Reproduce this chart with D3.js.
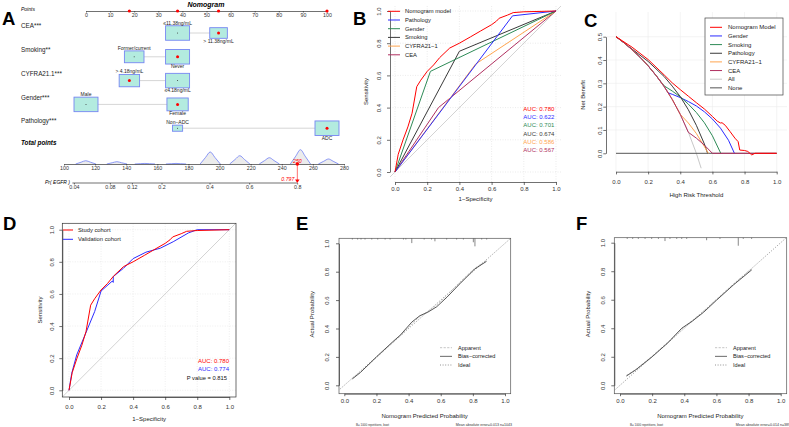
<!DOCTYPE html>
<html>
<head>
<meta charset="utf-8">
<title>Nomogram, ROC, DCA and calibration</title>
<script src="https://cdn.jsdelivr.net/npm/d3@7/dist/d3.min.js"></script>
<style>
  body { margin: 0; background: #fff; }
  svg { display: block; font-family: "Liberation Sans", Arial, Helvetica, sans-serif; }
</style>
</head>
<body>
<svg id="fig" width="789" height="427"></svg>
<script>
// ---- A: nomogram ----
var pointTicks = [0, 10, 20, 30, 40, 50, 60, 70, 80, 90, 100];
var pointMarks = [18, 38, 55, 100];
var nomoVars = ["CEA***", "Smoking**", "CYFRA21.1***", "Gender***", "Pathology***"];
var nomoLevels = [["≤11.38ng/mL", "> 11.38ng/mL"], ["Former/current", "Never"], ["> 4.18ng/mL", "≤4.18ng/mL"], ["Male", "Female"], ["Non\u2212ADC", "ADC"]];
var nomoPoints = [[38, 55], [20, 38], [18, 38], [0, 38], [38, 100]];
var nomoFreq = [[0.65, 0.35], [0.40, 0.60], [0.42, 0.58], [0.56, 0.44], [0.15, 0.85]];
var nomoPicked = [1, 1, 0, 1, 1];
var totalTicks = [100, 120, 140, 160, 180, 200, 220, 240, 260, 280];
var densityAt = [114, 134, 152, 172, 194, 213, 232, 252, 270];
var densityVal = [0.23, 0.16, 0.04, 0.04, 0.84, 0.58, 0.44, 1.0, 0.35];
var probTicks = [0.04, 0.08, 0.12, 0.2, 0.4, 0.6, 0.8];
var lpIntercept = -6.56, lpSlope = 0.0318;
var patientTotal = 250, patientProb = 0.797;

// ---- B / D: ROC ----
var rocNames = ["Nomogram model", "Pathology", "Gender", "Smoking", "CYFRA21\u22121", "CEA"];
var rocAuc = ["0.780", "0.622", "0.701", "0.674", "0.586", "0.567"];
var nomoFpr = [0, 0.02, 0.05, 0.08, 0.106, 0.135, 0.16, 0.2, 0.24, 0.277, 0.34, 0.4, 0.47, 0.53, 0.6, 0.63, 0.647, 0.7, 0.734, 0.8, 1];
var nomoTpr = [0, 0.11, 0.2, 0.28, 0.365, 0.53, 0.57, 0.625, 0.665, 0.71, 0.77, 0.8, 0.84, 0.875, 0.915, 0.937, 0.955, 0.975, 0.99, 0.995, 1];
var pathFpr = [0, 0.73, 1], pathTpr = [0, 0.97, 1];
var genderFpr = [0, 0.22, 1], genderTpr = [0, 0.625, 1];
var smokFpr = [0, 0.4, 1], smokTpr = [0, 0.75, 1];
var cyfraFpr = [0, 0.5, 1], cyfraTpr = [0, 0.67, 1];
var ceaFpr = [0, 0.27, 1], ceaTpr = [0, 0.4, 1];
var cohortNames = ["Study cohort", "Validation cohort"];
var cohortAuc = ["0.780", "0.774"];
var cohortP = "0.815";
var valFpr = [0, 0.017, 0.048, 0.1, 0.16, 0.2, 0.27, 0.276, 0.276, 0.34, 0.4, 0.48, 0.57, 0.65, 0.745, 0.8, 1];
var valTpr = [0, 0.106, 0.22, 0.345, 0.49, 0.618, 0.68, 0.672, 0.708, 0.76, 0.82, 0.86, 0.885, 0.925, 0.98, 1, 1];

// ---- C: decision curves ----
var dcaNames = ["Nomogram Model", "Gender", "Smoking", "Pathology", "CYFRA21\u22121", "CEA", "All", "None"];
var dcaNomoX = [0, 0.1, 0.2, 0.3, 0.35, 0.4, 0.45, 0.5, 0.55, 0.6, 0.63, 0.65, 0.66, 0.68, 0.71, 0.74, 0.76, 0.77, 0.8, 0.82, 0.845, 0.865, 1];
var dcaNomoY = [0.5, 0.455, 0.402, 0.336, 0.302, 0.273, 0.245, 0.217, 0.19, 0.158, 0.138, 0.13, 0.131, 0.12, 0.093, 0.065, 0.05, 0.014, 0.012, 0.008, -0.007, 0, 0];
var dcaGenderX = [0, 0.05, 0.1, 0.15, 0.2, 0.25, 0.3, 0.325, 0.35, 0.4, 0.45, 0.5, 0.55, 0.6, 0.65, 0.7, 0.737];
var dcaGenderY = [0.5, 0.474, 0.444, 0.412, 0.375, 0.333, 0.286, 0.259, 0.253, 0.239, 0.222, 0.203, 0.178, 0.147, 0.108, 0.056, 0];
var dcaSmokX = [0, 0.05, 0.1, 0.15, 0.2, 0.25, 0.3, 0.35, 0.4, 0.45, 0.5, 0.55, 0.6, 0.652];
var dcaSmokY = [0.5, 0.474, 0.444, 0.412, 0.375, 0.333, 0.289, 0.267, 0.242, 0.211, 0.175, 0.131, 0.075, 0];
var dcaPathX = [0, 0.1, 0.2, 0.3, 0.35, 0.4, 0.45, 0.5, 0.55, 0.57];
var dcaPathY = [0.5, 0.447, 0.394, 0.329, 0.288, 0.243, 0.187, 0.12, 0.04, 0];
var dcaCyfraX = [0, 0.05, 0.1, 0.15, 0.2, 0.25, 0.3, 0.35, 0.4, 0.45, 0.5, 0.55, 0.575];
var dcaCyfraY = [0.5, 0.474, 0.444, 0.412, 0.375, 0.333, 0.286, 0.231, 0.167, 0.13, 0.085, 0.029, 0];
var dcaCeaX = [0, 0.05, 0.1, 0.15, 0.2, 0.25, 0.3, 0.35, 0.4, 0.45, 0.5, 0.55, 0.6, 1];
var dcaCeaY = [0.5, 0.474, 0.444, 0.412, 0.375, 0.333, 0.286, 0.231, 0.167, 0.09, 0.065, 0.035, 0, 0];
var dcaAllX = [0, 0.05, 0.1, 0.15, 0.2, 0.25, 0.3, 0.35, 0.4, 0.45, 0.5, 0.53];
var dcaAllY = [0.5, 0.474, 0.444, 0.412, 0.375, 0.333, 0.286, 0.231, 0.167, 0.091, 0, -0.064];
var dcaNoneX = [0, 1], dcaNoneY = [0, 0];

// ---- E / F: calibration ----
var calNames = ["Apparent", "Bias\u2212corrected", "Ideal"];
var eBcX = [0.05, 0.1, 0.2, 0.3, 0.35, 0.42, 0.47, 0.52, 0.575, 0.64, 0.72, 0.81, 0.885];
var eBcY = [0.045, 0.09, 0.2, 0.305, 0.355, 0.445, 0.49, 0.515, 0.553, 0.622, 0.716, 0.818, 0.873];
var eAppY = [0.05, 0.092, 0.195, 0.298, 0.348, 0.432, 0.485, 0.52, 0.565, 0.635, 0.728, 0.822, 0.88];
var eRugAt = [0.05, 0.083, 0.104, 0.129, 0.171, 0.208, 0.254, 0.285, 0.368, 0.383, 0.42, 0.497, 0.543, 0.564, 0.637, 0.699, 0.741, 0.803, 0.813, 0.855, 0.886];
var eRugN = [1, 1, 1, 1, 1, 1, 1, 1, 1, 1, 4, 1, 1, 2.5, 1, 1, 1, 3.3, 6.7, 1, 1];
var eNote = ["B= 1000 repetitions, boot", "Mean absolute error=0.013 n=1043"];
var fBcX = [0.04, 0.1, 0.2, 0.3, 0.384, 0.45, 0.52, 0.6, 0.705, 0.82];
var fBcY = [0.065, 0.11, 0.2, 0.3, 0.4, 0.45, 0.512, 0.596, 0.703, 0.81];
var fAppY = [0.07, 0.112, 0.205, 0.305, 0.395, 0.455, 0.52, 0.603, 0.71, 0.82];
var fRugAt = [0.045, 0.079, 0.114, 0.156, 0.197, 0.239, 0.28, 0.311, 0.353, 0.384, 0.415, 0.539, 0.622, 0.736, 0.767, 0.819];
var fRugN = [1, 1, 1, 1, 1, 1, 2.8, 1, 1, 1, 1, 2.1, 1, 6.7, 1, 1];
var fNote = ["B= 1000 repetitions, boot", "Mean absolute error=0.014 n=389"];

var RED = "#ff0000", BLUE = "#2b2bff", GREEN = "#2e8b57", DARK = "#3a3a3a",
    ORANGE = "#ffa54f", MAROON = "#b03060", LIGHT = "#c8c8c8", AX = "#333";

var svg = d3.select("#fig");
var defs = svg.append("defs");
var f1 = d3.format(".1f");

function letter(x, y, t) {
  svg.append("text").attr("x", x).attr("y", y).attr("font-size", 18.5)
    .attr("font-weight", "bold").attr("fill", "#000").text(t);
}

function styleAxis(a, fs) {
  a.attr("font-size", fs).attr("font-family", null).attr("color", AX);
  a.selectAll("path, line").attr("stroke-width", 0.7);
}

// bottom axis: gap = distance from axis line to top of labels
function axisB(g, scale, ticks, y, tick, gap, fmt, fs) {
  var ax = d3.axisBottom(scale).tickValues(ticks).tickSize(tick).tickSizeOuter(0)
    .tickPadding(gap - tick).tickFormat(fmt);
  var a = g.append("g").attr("transform", "translate(0," + y + ")").call(ax);
  styleAxis(a, fs || 6);
  a.selectAll(".tick text").attr("dy", "0.72em");
  return a;
}

// left axis with labels turned like R does (reading upward), gap = axis to baseline
function axisL(g, scale, ticks, x, tick, gap, fmt, fs) {
  var ax = d3.axisLeft(scale).tickValues(ticks).tickSize(tick).tickSizeOuter(0).tickFormat(fmt);
  var a = g.append("g").attr("transform", "translate(" + x + ",0)").call(ax);
  styleAxis(a, fs || 6);
  a.selectAll(".tick text").attr("transform", "rotate(-90)").attr("x", 0)
    .attr("y", -gap).attr("dy", null).attr("text-anchor", "middle");
  return a;
}

function clip(id, x0, y0, x1, y1) {
  defs.append("clipPath").attr("id", id).append("rect")
    .attr("x", x0).attr("y", y0).attr("width", x1 - x0).attr("height", y1 - y0);
  return "url(#" + id + ")";
}

function vtitle(g, x, y, t, fs) {
  g.append("text").attr("transform", "translate(" + x + "," + y + ") rotate(-90)")
    .attr("text-anchor", "middle").attr("font-size", fs || 6).attr("fill", "#222").text(t);
}

function htitle(g, x, y, t, fs) {
  g.append("text").attr("x", x).attr("y", y).attr("text-anchor", "middle")
    .attr("font-size", fs || 6).attr("fill", "#222").text(t);
}

function curve(g, x, y, xs, ys, col, w, dash) {
  var pts = xs.map(function(v, i) { return [v, ys[i]]; });
  var line = d3.line().x(function(d) { return x(d[0]); }).y(function(d) { return y(d[1]); });
  return g.append("path").attr("d", line(pts)).attr("fill", "none")
    .attr("stroke", col).attr("stroke-width", w || 1).attr("stroke-dasharray", dash || null);
}

function grid(g, x, y, xt, yt, x0, x1, y0, y1, col, dash) {
  g.selectAll(null).data(xt).enter().append("line")
    .attr("x1", function(d) { return x(d); }).attr("x2", function(d) { return x(d); })
    .attr("y1", y0).attr("y2", y1).attr("stroke", col).attr("stroke-width", 0.6)
    .attr("stroke-dasharray", dash);
  g.selectAll(null).data(yt).enter().append("line")
    .attr("y1", function(d) { return y(d); }).attr("y2", function(d) { return y(d); })
    .attr("x1", x0).attr("x2", x1).attr("stroke", col).attr("stroke-width", 0.6)
    .attr("stroke-dasharray", dash);
}

var unitTicks = [0, 0.2, 0.4, 0.6, 0.8, 1];

/*** PANEL A ***/
(function() {
  var g = svg.append("g");
  var px = d3.scaleLinear().domain([0, 100]).range([86, 327]);
  var tx = d3.scaleLinear().domain([100, 280]).range([64, 344]);
  var rowY = function(i) { return 33 + i * 23.8; };
  var boxW = 24, boxH = 14.5;

  g.append("text").attr("x", 206).attr("y", 7).attr("text-anchor", "middle")
    .attr("font-size", 7).attr("font-weight", "bold").attr("font-style", "italic").text("Nomogram");
  g.append("text").attr("x", 21).attr("y", 10.5).attr("font-size", 5).attr("font-style", "italic").text("Points");

  axisB(g, px, pointTicks, 11, 1.5, 2, d3.format("d"), 5.3);
  g.selectAll(null).data(pointMarks).enter().append("circle")
    .attr("cx", function(d) { return px(d); }).attr("cy", 11).attr("r", 1.6).attr("fill", RED);

  nomoVars.forEach(function(name, i) {
    var y = rowY(i);
    var maxF = d3.max(nomoFreq[i]);
    g.append("text").attr("x", 21).attr("y", y - 4.8).attr("font-size", 6.3).attr("fill", "#222").text(name);
    g.append("line").attr("x1", px(nomoPoints[i][0])).attr("x2", px(nomoPoints[i][1]))
      .attr("y1", y).attr("y2", y).attr("stroke", "#d6d6d6").attr("stroke-width", 1);
    nomoLevels[i].forEach(function(lv, j) {
      var k = Math.sqrt(nomoFreq[i][j] / maxF), w = boxW * k, h = boxH * k;
      var cx = px(nomoPoints[i][j]);
      g.append("rect").attr("x", cx - w / 2).attr("y", y - h / 2).attr("width", w).attr("height", h)
        .attr("fill", "#b3ebdf").attr("stroke", "#7686f2").attr("stroke-width", 0.9);
      if (nomoPicked[i] === j) {
        g.append("circle").attr("cx", cx).attr("cy", y).attr("r", 1.5).attr("fill", RED);
      } else {
        g.append("circle").attr("cx", cx).attr("cy", y).attr("r", 0.5).attr("fill", "#333");
      }
      g.append("text").attr("x", cx).attr("y", j === 0 ? y - h / 2 - 1 : y + h / 2 + 4.2)
        .attr("text-anchor", "middle").attr("font-size", 5).attr("fill", "#222").text(lv);
    });
  });

  g.append("text").attr("x", 21).attr("y", 145).attr("font-size", 6.3).attr("font-weight", "bold")
    .attr("font-style", "italic").text("Total points");

  // distribution of total points
  var hy = d3.scaleLinear().domain([0, 1]).range([0, 14.3]);
  var hump = d3.line().curve(d3.curveMonotoneX);
  densityAt.forEach(function(c, i) {
    var h = hy(densityVal[i]);
    var pts = [[tx(c - 6.5), 164], [tx(c - 3), 164 - 0.55 * h], [tx(c), 164 - h], [tx(c + 3), 164 - 0.55 * h], [tx(c + 6.5), 164]];
    g.append("path").attr("d", hump(pts)).attr("fill", "#ececec").attr("stroke", "#6f7ff5").attr("stroke-width", 0.8);
  });
  axisB(g, tx, totalTicks, 164, 1.5, 2, d3.format("d"), 5.3);

  // probability axis (logit of the linear predictor)
  var lx = d3.scaleLinear().domain([lpIntercept + lpSlope * 100, lpIntercept + lpSlope * 280]).range([64, 344]);
  var logit = function(p) { return Math.log(p / (1 - p)); };
  var pa = axisB(g, lx, probTicks.map(logit), 183, 1.5, 2, function(v) { return d3.format("~g")(+(1 / (1 + Math.exp(-v))).toFixed(2)); }, 5.3);
  pa.select(".domain").remove();
  g.append("line").attr("x1", lx(logit(probTicks[0])) - 1.5).attr("x2", lx(logit(probTicks[probTicks.length - 1])))
    .attr("y1", 183).attr("y2", 183).attr("stroke", AX).attr("stroke-width", 0.7);
  g.append("text").attr("x", 45).attr("y", 184).attr("font-size", 5).attr("font-style", "italic").text("Pr( EGFR )");

  // selected patient
  var ptx = tx(patientTotal);
  g.append("line").attr("x1", ptx).attr("x2", ptx).attr("y1", 164).attr("y2", 181)
    .attr("stroke", "#ff7070").attr("stroke-width", 1);
  g.append("circle").attr("cx", ptx).attr("cy", 164).attr("r", 1.8).attr("fill", RED);
  g.append("path").attr("d", "M" + (ptx - 2.2) + ",179.5L" + (ptx + 2.2) + ",179.5L" + ptx + ",183Z").attr("fill", RED);
  g.append("text").attr("x", ptx).attr("y", 162.5).attr("text-anchor", "middle").attr("font-size", 5.2)
    .attr("font-style", "italic").attr("fill", RED).text(patientTotal);
  g.append("text").attr("x", ptx - 3).attr("y", 181).attr("text-anchor", "end").attr("font-size", 5.2)
    .attr("font-style", "italic").attr("fill", RED).text(patientProb);
})();

/*** PANEL B ***/
(function() {
  var g = svg.append("g");
  var x = d3.scaleLinear().domain([0, 1]).range([395, 556]);
  var y = d3.scaleLinear().domain([0, 1]).range([172, 11]);
  var cp = clip("clipB", 390, 6, 562, 182);
  grid(g, x, y, unitTicks, unitTicks, 390, 562, 182, 6, "#dedede", "1,1.5");
  g.append("line").attr("x1", x(-0.1)).attr("y1", y(-0.1)).attr("x2", x(1.1)).attr("y2", y(1.1))
    .attr("stroke", LIGHT).attr("stroke-width", 0.8).attr("clip-path", cp);
  var cols = [RED, BLUE, GREEN, DARK, ORANGE, MAROON];
  var xs = [nomoFpr, pathFpr, genderFpr, smokFpr, cyfraFpr, ceaFpr];
  var ys = [nomoTpr, pathTpr, genderTpr, smokTpr, cyfraTpr, ceaTpr];
  for (var i = xs.length - 1; i >= 0; i--) curve(g, x, y, xs[i], ys[i], cols[i], 1);
  axisL(g, y, unitTicks, 390, 3, 9.5, f1);
  axisB(g, x, unitTicks, 182, 3, 5, f1);
  vtitle(g, 368, y(0.5), "Sensitivity");
  htitle(g, x(0.5), 201, "1\u2212Specificity");
  rocNames.forEach(function(n, i) {
    var ly = 11.3 + i * 8.7;
    g.append("line").attr("x1", 388).attr("x2", 400).attr("y1", ly).attr("y2", ly).attr("stroke", cols[i]).attr("stroke-width", 1);
    g.append("text").attr("x", 405).attr("y", ly + 2).attr("font-size", 5.8).attr("fill", "#222").text(n);
    g.append("text").attr("x", 523.3).attr("y", 111 + i * 8.2).attr("font-size", 6).attr("fill", cols[i]).text("AUC: " + rocAuc[i]);
  });
})();

/*** PANEL C ***/
(function() {
  var g = svg.append("g");
  var x = d3.scaleLinear().domain([0, 1]).range([616, 776.7]);
  var y = d3.scaleLinear().domain([0, 0.5]).range([153.3, 36.7]);
  var cp = clip("clipC", 606, 12, 787, 171.7);
  grid(g, x, y, unitTicks, [0.1, 0.2, 0.3, 0.4, 0.5], 606, 787, 171.7, 12, "#ececec", null);
  var lines = [
    [dcaAllX, dcaAllY, LIGHT], [dcaNoneX, dcaNoneY, "#555"],
    [dcaGenderX, dcaGenderY, BLUE], [dcaSmokX, dcaSmokY, GREEN], [dcaPathX, dcaPathY, DARK],
    [dcaCyfraX, dcaCyfraY, ORANGE], [dcaCeaX, dcaCeaY, MAROON], [dcaNomoX, dcaNomoY, RED]
  ];
  lines.forEach(function(l) { curve(g, x, y, l[0], l[1], l[2], 1).attr("clip-path", cp); });
  axisL(g, y, [0, 0.1, 0.2, 0.3, 0.4, 0.5], 606, 2.7, 4, f1);
  axisB(g, x, unitTicks, 171.7, 2.7, 8, f1);
  vtitle(g, 585, y(0.25), "Net Benefit");
  htitle(g, x(0.5), 197, "High Risk Threshold");
  var cols = [RED, BLUE, GREEN, DARK, ORANGE, MAROON, LIGHT, "#555"];
  g.append("rect").attr("x", 705).attr("y", 18).attr("width", 78).attr("height", 77)
    .attr("fill", "#fff").attr("stroke", "#444").attr("stroke-width", 0.7);
  dcaNames.forEach(function(n, i) {
    var ly = 27.3 + i * 8.65;
    g.append("line").attr("x1", 710).attr("x2", 722).attr("y1", ly).attr("y2", ly).attr("stroke", cols[i]).attr("stroke-width", 1);
    g.append("text").attr("x", 728).attr("y", ly + 2.1).attr("font-size", 6).attr("fill", "#222").text(n);
  });
})();

/*** PANEL D ***/
(function() {
  var g = svg.append("g");
  var x = d3.scaleLinear().domain([0, 1]).range([69, 229.3]);
  var y = d3.scaleLinear().domain([0, 1]).range([390.3, 229.7]);
  var cp = clip("clipD", 62.3, 223.3, 236, 397);
  grid(g, x, y, unitTicks, unitTicks, 62.3, 236, 397, 223.3, "#e2e2e2", "1,1.5");
  g.append("line").attr("x1", x(-0.1)).attr("y1", y(-0.1)).attr("x2", x(1.1)).attr("y2", y(1.1))
    .attr("stroke", LIGHT).attr("stroke-width", 0.8).attr("clip-path", cp);
  curve(g, x, y, valFpr, valTpr, BLUE, 1);
  curve(g, x, y, nomoFpr, nomoTpr, RED, 1);
  g.append("rect").attr("x", 62.3).attr("y", 223.3).attr("width", 173.7).attr("height", 173.7)
    .attr("fill", "none").attr("stroke", AX).attr("stroke-width", 0.7);
  axisL(g, y, unitTicks, 62.3, 3, 8.3, f1);
  axisB(g, x, unitTicks, 397, 3, 8, f1);
  vtitle(g, 42, y(0.5), "Sensitivity");
  htitle(g, x(0.5), 421, "1\u2212Specificity");
  var cols = [RED, BLUE];
  cohortNames.forEach(function(n, i) {
    var ly = 230 + i * 9.3;
    g.append("line").attr("x1", 63).attr("x2", 73).attr("y1", ly).attr("y2", ly).attr("stroke", cols[i]).attr("stroke-width", 1);
    g.append("text").attr("x", 78).attr("y", ly + 2).attr("font-size", 5.8).attr("fill", "#222").text(n);
    g.append("text").attr("x", 229).attr("y", 362.7 + i * 8.3).attr("text-anchor", "end")
      .attr("font-size", 6).attr("fill", cols[i]).text("AUC: " + cohortAuc[i]);
  });
  g.append("text").attr("x", 227).attr("y", 380).attr("text-anchor", "end")
    .attr("font-size", 5.8).attr("fill", "#111").text("P value = " + cohortP);
})();

/*** PANELS E, F ***/
function calPanel(o) {
  var g = svg.append("g");
  var x = d3.scaleLinear().domain([0, 1]).range(o.xr);
  var y = d3.scaleLinear().domain([0, 1]).range(o.yr);
  var f = o.frame;
  var cp = clip(o.id, f[0], f[1], f[2], f[3]);
  g.append("line").attr("x1", x(-0.1)).attr("y1", y(-0.1)).attr("x2", x(1.1)).attr("y2", y(1.1))
    .attr("stroke", "#777").attr("stroke-width", 0.8).attr("stroke-dasharray", "1,1.6").attr("clip-path", cp);
  curve(g, x, y, o.bcX, o.appY, "#b5b5b5", 0.8, "2.2,1.4");
  curve(g, x, y, o.bcX, o.bcY, "#444", 0.9);
  g.append("rect").attr("x", f[0]).attr("y", f[1]).attr("width", f[2] - f[0]).attr("height", f[3] - f[1])
    .attr("fill", "none").attr("stroke", "#555").attr("stroke-width", 0.7);
  var rh = d3.scaleLinear().domain([0, 1]).range([0, 1.2]);
  g.selectAll(null).data(o.rugAt).enter().append("line")
    .attr("x1", function(d) { return x(d); }).attr("x2", function(d) { return x(d); })
    .attr("y1", f[1]).attr("y2", function(d, i) { return f[1] + rh(o.rugN[i]); })
    .attr("stroke", "#555").attr("stroke-width", 0.7);
  axisL(g, y, unitTicks, f[0], 3, o.ygap, f1);
  axisB(g, x, unitTicks, f[3], 2.5, 5.3, f1);
  vtitle(g, o.ytitle, y(0.5), "Actual Probability");
  htitle(g, x(0.5), 418, "Nomogram Predicted Probability", 6);
  var cols = ["#b5b5b5", "#444", "#777"];
  var dashes = ["2.2,1.4", null, "1,1.6"];
  calNames.forEach(function(n, i) {
    var ly = 347.7 + i * 8.65;
    g.append("line").attr("x1", o.legX).attr("x2", o.legX + 12).attr("y1", ly).attr("y2", ly)
      .attr("stroke", cols[i]).attr("stroke-width", 0.8).attr("stroke-dasharray", dashes[i]);
    g.append("text").attr("x", o.legX + 18).attr("y", ly + 2).attr("font-size", 5.6).attr("fill", "#222").text(n);
  });
  g.append("text").attr("x", o.noteL).attr("y", 425.5).attr("font-size", 3.6).attr("fill", "#333")
    .attr("textLength", 33).attr("lengthAdjust", "spacingAndGlyphs").text(o.note[0]);
  g.append("text").attr("x", o.noteR).attr("y", 425.5).attr("font-size", 3.6).attr("fill", "#333")
    .attr("text-anchor", "end").text(o.note[1]);
}

calPanel({ id: "clipE", xr: [344.3, 505], yr: [385.3, 243.3], frame: [339, 238.3, 510.7, 393.7],
  bcX: eBcX, bcY: eBcY, appY: eAppY, rugAt: eRugAt, rugN: eRugN, ygap: 9.7, ytitle: 314,
  legX: 440, note: eNote, noteL: 356, noteR: 512 });
calPanel({ id: "clipF", xr: [620, 780.7], yr: [385.3, 242.7], frame: [614.3, 237.7, 786.7, 393.7],
  bcX: fBcX, bcY: fBcY, appY: fAppY, rugAt: fRugAt, rugN: fRugN, ygap: 9, ytitle: 590,
  legX: 715, note: fNote, noteL: 630, noteR: 790 });

letter(2, 25, "A");
letter(353, 25, "B");
letter(584, 27, "C");
letter(3, 230, "D");
letter(296, 230, "E");
letter(576, 230, "F");
</script>
</body>
</html>
